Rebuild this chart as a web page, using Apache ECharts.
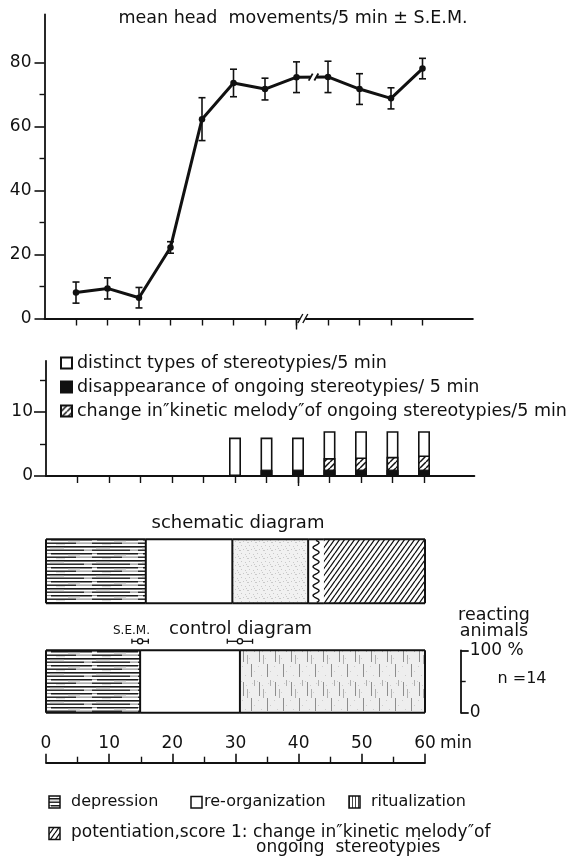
<!DOCTYPE html>
<html><head><meta charset="utf-8">
<script src="https://cdn.jsdelivr.net/npm/echarts@6/dist/echarts.min.js"></script>
<style>html,body{margin:0;padding:0;background:#fff}#c{width:584px;height:858px}</style>
</head><body><div id="c"></div>
<script>
// ---------------- data ----------------
const headTimes = [5,10,15,20,25,30,35,40,45,50,55,60];
const headMeans = [8.1,9.4,6.5,22.2,62.3,73.6,71.7,75.4,75.5,71.7,68.8,78.1];
const headSEM   = [3.3,3.3,3.2,1.8,6.7,4.3,3.4,4.8,4.9,4.8,3.3,3.2];
const headYLabels = [0,20,40,60,80];
const headYMinor  = [10,30,50,70];
const blockTicks  = [5,10,15,20,25,30,35,40,45,50,55,60];
const breakTick   = [40];
const barTimes      = [30,35,40,45,50,55,60];
const distinctTypes = [6,6,6,7,7,7,7];
const disappearance = [0,1,1,1,1,1,1];
const kineticChange = [0,0,0,1.8,1.9,2.0,2.2];
const barYLabels = [0,10];
const barYMinor  = [5,15];
const timeLabels = [0,10,20,30,40,50,60];
const schematicBounds = [0,15.8,29.5,41.5,44.0,60];
const schematicPhases = ['depression','re-organization','ritualization','transition','potentiation'];
const controlBounds = [0,14.9,30.7,60];
const controlPhases = ['depression','re-organization','ritualization-control'];
const controlSEM = [1.3,2.0];
const reactingLabels = [0,100];
const reactingMid = [50];
const barNames = ['distinct types of stereotypies/5 min',
                  'disappearance of ongoing stereotypies/ 5 min',
                  'change in\u2033kinetic melody\u2033of ongoing stereotypies/5 min'];

// ---------------- styles ----------------
const FF = '"DejaVu Sans"';
const INK = '#111';
function pattern(w,h,draw){const c=document.createElement('canvas');c.width=w;c.height=h;const g=c.getContext('2d');g.fillStyle='#fff';g.fillRect(0,0,w,h);draw(g,w,h);return {image:c,repeat:'repeat'};}
const patDepression = pattern(46,14,g=>{
  g.fillStyle='#1a1a1a';g.fillRect(0,0,46,1.6);g.fillRect(0,3.5,38,1.4);g.fillRect(5,7,41,1.5);g.fillRect(0,10.5,30,1.4);
  g.fillStyle='#7a7a7a';g.fillRect(38,3.6,8,1);g.fillRect(0,7.1,5,1);g.fillRect(30,10.6,16,1);
  g.fillStyle='#d4d4d4';g.fillRect(4,1.8,14,1);g.fillRect(22,8.8,12,1);g.fillRect(10,12.2,9,1);});
const patStipple = pattern(8,8,g=>{g.fillStyle='#f1f1f1';g.fillRect(0,0,8,8);g.fillStyle='#c9c9c9';[[1,1],[5,2],[3,5],[7,6],[0,6],[6,4]].forEach(([x,y])=>g.fillRect(x,y,1,1));});
const patRitualCtrl = pattern(16,34,g=>{g.fillStyle='#eeeeee';g.fillRect(0,0,16,34);g.fillStyle='#cccccc';[[1,1],[6,5],[12,3],[9,12],[2,20],[14,25],[5,29]].forEach(([x,y])=>g.fillRect(x,y,1,1));g.fillStyle='#8d8d8d';g.fillRect(3,2,1,14);g.fillRect(11,18,1,13);g.fillStyle='#b0b0b0';g.fillRect(7,9,1,9);g.fillRect(14,0,1,6);});
const patHatch = pattern(5,7,(g,w,h)=>{g.strokeStyle=INK;g.lineWidth=1.3;g.beginPath();for(let k=-1;k<=1;k++){g.moveTo(k*w,h);g.lineTo(k*w+w,0);}g.stroke();});
const patBarHatch = pattern(6,6,(g,w,h)=>{g.strokeStyle=INK;g.lineWidth=1.5;g.beginPath();for(let k=-1;k<=1;k++){g.moveTo(k*w,h);g.lineTo(k*w+w,0);}g.stroke();});
const patVert = pattern(3,3,g=>{g.fillStyle='#444';g.fillRect(1,0,1,3);});
const phaseFill = {'depression':patDepression,'re-organization':'#fff','ritualization':patStipple,
  'transition':'#fff','potentiation':patHatch,'ritualization-control':patRitualCtrl};

// ---------------- renderers ----------------
function errRender(params, api){
  const t=api.value(0), a=api.coord([t,api.value(1)]), b=api.coord([t,api.value(2)]), w=3.5;
  const st={stroke:INK,lineWidth:1.6};
  return {type:'group',children:[
    {type:'line',shape:{x1:a[0],y1:a[1],x2:b[0],y2:b[1]},style:st},
    {type:'line',shape:{x1:a[0]-w,y1:a[1],x2:a[0]+w,y2:a[1]},style:st},
    {type:'line',shape:{x1:b[0]-w,y1:b[1],x2:b[0]+w,y2:b[1]},style:st}]};
}
function lineBreakRender(params, api){
  const a=api.coord([api.value(0),api.value(1)]), b=api.coord([api.value(2),api.value(3)]);
  const p=f=>[a[0]+(b[0]-a[0])*f,a[1]+(b[1]-a[1])*f];
  const p1=p(0.45), p2=p(0.63), st={stroke:INK,lineWidth:1.8};
  return {type:'group',children:[
    {type:'line',shape:{x1:p1[0],y1:p1[1],x2:p2[0],y2:p2[1]},style:{stroke:'#fff',lineWidth:7}},
    {type:'line',shape:{x1:p1[0]-2,y1:p1[1]+3.5,x2:p1[0]+2,y2:p1[1]-3.5},style:st},
    {type:'line',shape:{x1:p2[0]-2,y1:p2[1]+3.5,x2:p2[0]+2,y2:p2[1]-3.5},style:st}]};
}
function axisBreakRender(params, api){
  const c=api.coord([api.value(0),api.value(1)]), st={stroke:INK,lineWidth:1.4};
  return {type:'group',children:[
    {type:'rect',shape:{x:c[0]-2.5,y:c[1]-2,width:5,height:4},style:{fill:'#fff'}},
    {type:'line',shape:{x1:c[0]-5,y1:c[1]+4.5,x2:c[0],y2:c[1]-4.5},style:st},
    {type:'line',shape:{x1:c[0],y1:c[1]+4.5,x2:c[0]+5,y2:c[1]-4.5},style:st}]};
}
function diagramRender(phases){
  return function(params, api){
    const i=params.dataIndex, s=api.value(0), e=api.value(1), lvl=api.value(2);
    const a=api.coord([s,lvl]), b=api.coord([e,0]);
    const x0=a[0], y0=a[1], x1=b[0], y1=b[1], ph=phases[i];
    const ls={stroke:INK,lineWidth:2};
    const ch=[{type:'rect',shape:{x:x0,y:y0,width:x1-x0,height:y1-y0},style:{fill:phaseFill[ph]}},
      {type:'line',shape:{x1:x0,y1:y0,x2:x1,y2:y0},style:ls},
      {type:'line',shape:{x1:x0,y1:y1,x2:x1,y2:y1},style:ls}];
    if(i===0||phases[i-1]!=='transition') ch.push({type:'line',shape:{x1:x0,y1:y0,x2:x0,y2:y1},style:ls});
    if(i===phases.length-1) ch.push({type:'line',shape:{x1:x1,y1:y0,x2:x1,y2:y1},style:ls});
    if(ph==='transition'){
      const cx=(x0+x1)/2, pts=[];
      for(let y=y0+1;y<=y1-1;y+=0.5) pts.push([cx+3*Math.sin(2*Math.PI*(y-y0-1)/9.6),y]);
      ch.push({type:'polyline',shape:{points:pts},style:{stroke:INK,lineWidth:1.4,fill:null}});
    }
    return {type:'group',children:ch};
  };
}
function semRender(params, api){
  const t=api.value(0), s=api.value(1);
  const c=api.coord([t,100]), l=api.coord([t-s,100]), r=api.coord([t+s,100]);
  const y=c[1]-9, st={stroke:INK,lineWidth:1.3};
  return {type:'group',children:[
    {type:'line',shape:{x1:l[0],y1:y,x2:r[0],y2:y},style:st},
    {type:'line',shape:{x1:l[0],y1:y-2.5,x2:l[0],y2:y+2.5},style:st},
    {type:'line',shape:{x1:r[0],y1:y-2.5,x2:r[0],y2:y+2.5},style:st},
    {type:'circle',shape:{cx:c[0],cy:y,r:2.6},style:{fill:'#fff',stroke:INK,lineWidth:1.3}}]};
}

// ---------------- option ----------------
const mkLine = ()=>({show:true,onZero:false,lineStyle:{color:INK,width:1.8}});
const noLine = ()=>({show:false,onZero:false});
const lab = (size)=>({color:INK,fontFamily:FF,fontSize:size});
function txt(text,x,y,size,align){return {type:'text',x:x,y:y,silent:true,style:{text:text,fill:INK,font:size+'px '+FF,textAlign:align,textVerticalAlign:'middle'}};}
const ongoingTop = disappearance.map((d,i)=>d+kineticChange[i]);

const option = {
  backgroundColor:'#fff',
  animation:false,
  grid:[
    {left:44.5,top:14.5,width:428.4,height:304},
    {left:46,top:360.8,width:428.4,height:115.2},
    {left:46,top:539.3,width:379,height:64},
    {left:46,top:650.3,width:379,height:62.4}
  ],
  xAxis:[
    {gridIndex:0,type:'value',position:'bottom',min:0,max:68,axisLine:mkLine(),splitLine:{show:false},
      axisTick:{show:true,customValues:blockTicks,length:7,lineStyle:{color:INK,width:1.4}},axisLabel:{show:false}},
    {gridIndex:0,type:'value',position:'bottom',min:0,max:68,axisLine:noLine(),splitLine:{show:false},
      axisTick:{show:true,customValues:breakTick,length:11,lineStyle:{color:INK,width:1.4}},axisLabel:{show:false}},
    {gridIndex:1,type:'value',position:'bottom',min:0,max:68,axisLine:mkLine(),splitLine:{show:false},
      axisTick:{show:true,customValues:blockTicks,length:7,lineStyle:{color:INK,width:1.4}},axisLabel:{show:false}},
    {gridIndex:1,type:'value',position:'bottom',min:0,max:68,axisLine:noLine(),splitLine:{show:false},
      axisTick:{show:true,customValues:breakTick,length:10,lineStyle:{color:INK,width:1.4}},axisLabel:{show:false}},
    {gridIndex:2,type:'value',min:0,max:60,show:false},
    {gridIndex:3,type:'value',min:0,max:60,interval:10,position:'bottom',offset:50,
      axisLine:mkLine(),splitLine:{show:false},
      axisTick:{show:true,inside:true,length:9,lineStyle:{color:INK,width:1.6}},
      minorTick:{show:true,splitNumber:2,length:6,lineStyle:{color:INK,width:1.4}},
      axisLabel:Object.assign({inside:true,margin:11,customValues:timeLabels},lab(17))}
  ],
  yAxis:[
    {gridIndex:0,type:'value',position:'left',min:0,max:95,axisLine:mkLine(),splitLine:{show:false},
      axisTick:{show:true,customValues:headYLabels,length:10,lineStyle:{color:INK,width:1.6}},
      axisLabel:Object.assign({customValues:headYLabels,margin:13},lab(17))},
    {gridIndex:0,type:'value',position:'left',min:0,max:95,axisLine:noLine(),splitLine:{show:false},
      axisTick:{show:true,customValues:headYMinor,length:5,lineStyle:{color:INK,width:1.4}},axisLabel:{show:false}},
    {gridIndex:1,type:'value',position:'left',min:0,max:18,axisLine:mkLine(),splitLine:{show:false},
      axisTick:{show:true,customValues:barYLabels,length:12,lineStyle:{color:INK,width:1.6}},
      axisLabel:Object.assign({customValues:barYLabels,margin:13},lab(17))},
    {gridIndex:1,type:'value',position:'left',min:0,max:18,axisLine:noLine(),splitLine:{show:false},
      axisTick:{show:true,customValues:barYMinor,length:6,lineStyle:{color:INK,width:1.4}},axisLabel:{show:false}},
    {gridIndex:2,type:'value',min:0,max:100,show:false},
    {gridIndex:3,type:'value',min:0,max:100,position:'right',offset:35.7,axisLine:mkLine(),splitLine:{show:false},
      axisTick:{show:true,customValues:reactingLabels,length:8,lineStyle:{color:INK,width:1.8}},
      axisLabel:Object.assign({customValues:reactingLabels,margin:9,formatter:v=>v===100?'100 %':String(v)},lab(17))},
    {gridIndex:3,type:'value',min:0,max:100,position:'right',offset:35.7,axisLine:noLine(),splitLine:{show:false},
      axisTick:{show:true,customValues:reactingMid,length:5,lineStyle:{color:INK,width:1.4}},axisLabel:{show:false}}
  ],
  legend:{data:barNames,orient:'vertical',left:60,top:354,padding:0,itemWidth:11,itemHeight:11,itemGap:6,
    icon:'rect',selectedMode:false,textStyle:{color:INK,fontFamily:FF,fontSize:17.5}},
  series:[
    {type:'line',name:'mean head movements/5 min',xAxisIndex:0,yAxisIndex:0,z:3,
      data:headTimes.map((t,i)=>[t,headMeans[i]]),symbol:'circle',symbolSize:6.5,
      lineStyle:{color:INK,width:3},itemStyle:{color:INK}},
    {type:'custom',name:'S.E.M.',xAxisIndex:0,yAxisIndex:0,z:4,
      data:headTimes.map((t,i)=>[t,headMeans[i]-headSEM[i],headMeans[i]+headSEM[i]]),
      encode:{x:0,y:[1,2]},renderItem:errRender},
    {type:'custom',name:'line break',xAxisIndex:0,yAxisIndex:0,z:6,
      data:[[headTimes[7],headMeans[7],headTimes[8],headMeans[8]]],encode:{x:[0,2],y:[1,3]},renderItem:lineBreakRender},
    {type:'custom',name:'axis break',xAxisIndex:0,yAxisIndex:0,z:6,
      data:[[41,0]],encode:{x:0,y:1},renderItem:axisBreakRender},
    {type:'bar',name:barNames[0],xAxisIndex:2,yAxisIndex:2,barWidth:12,barGap:'-100%',z:2,
      data:barTimes.map((t,i)=>[t,distinctTypes[i]]),
      itemStyle:{color:'#fff',borderColor:INK,borderWidth:1.6}},
    {type:'bar',name:barNames[2],xAxisIndex:2,yAxisIndex:2,barWidth:12,barGap:'-100%',z:3,
      data:barTimes.map((t,i)=>[t,kineticChange[i]>0?ongoingTop[i]:0]),
      itemStyle:{color:patBarHatch,borderColor:INK,borderWidth:1.6}},
    {type:'bar',name:barNames[1],xAxisIndex:2,yAxisIndex:2,barWidth:12,barGap:'-100%',z:4,
      data:barTimes.map((t,i)=>[t,disappearance[i]]),
      itemStyle:{color:INK,borderColor:INK,borderWidth:1}},
    {type:'custom',name:'schematic diagram',xAxisIndex:4,yAxisIndex:4,
      data:schematicPhases.map((p,i)=>[schematicBounds[i],schematicBounds[i+1],100]),
      encode:{x:[0,1],y:2},renderItem:diagramRender(schematicPhases)},
    {type:'custom',name:'control diagram',xAxisIndex:5,yAxisIndex:5,
      data:controlPhases.map((p,i)=>[controlBounds[i],controlBounds[i+1],100]),
      encode:{x:[0,1],y:2},renderItem:diagramRender(controlPhases)},
    {type:'custom',name:'S.E.M. control',xAxisIndex:5,yAxisIndex:5,z:5,
      data:controlSEM.map((s,i)=>[controlBounds[i+1],s]),encode:{x:0},renderItem:semRender}
  ],
  graphic:[
    txt('mean head  movements/5 min \u00b1 S.E.M.',293,18,17.5,'center'),
    txt('schematic diagram',238,523,18,'center'),
    txt('control diagram',240.5,629,18,'center'),
    txt('S.E.M.',131.5,631,12,'center'),
    txt('reacting',494,615,17.5,'center'),
    txt('animals',494,631,17.5,'center'),
    txt('n =14',522,678.5,16,'center'),
    txt('min',440,744,17,'left'),
    {type:'rect',shape:{x:49,y:796,width:11,height:12},style:{fill:patDepression,stroke:INK,lineWidth:1.5}},
    txt('depression',71,802,16,'left'),
    {type:'rect',shape:{x:191,y:796.5,width:11,height:11.5},style:{fill:'#fff',stroke:INK,lineWidth:1.5}},
    txt('re-organization',204,802,16,'left'),
    {type:'rect',shape:{x:349,y:796,width:11,height:12},style:{fill:patVert,stroke:INK,lineWidth:1.5}},
    txt('ritualization',371,802,16,'left'),
    {type:'rect',shape:{x:49,y:827.5,width:11,height:12},style:{fill:patHatch,stroke:INK,lineWidth:1.5}},
    txt('potentiation,score 1: change in\u2033kinetic melody\u2033of',71,833,17,'left'),
    txt('ongoing  stereotypies',256,847.5,17,'left')
  ]
};
const chart = echarts.init(document.getElementById('c'),null,{renderer:'canvas'});
chart.setOption(option);
</script></body></html>
